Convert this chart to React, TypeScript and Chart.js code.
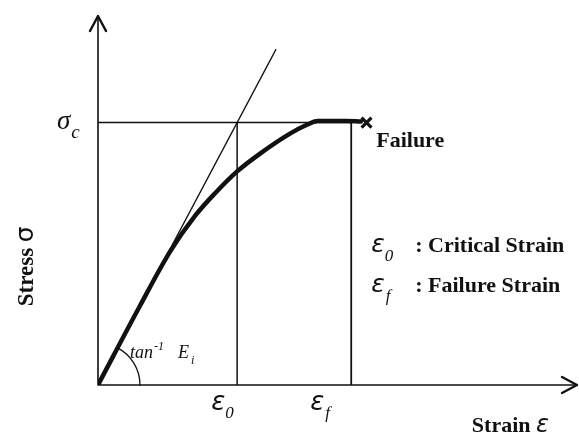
import React, { useEffect, useRef } from "react";
import { Chart, registerables } from "chart.js";

Chart.register(...registerables);

// Stress–strain curve, strain in units of ε0 and stress in units of σc
const strainCurve = [0, 0.3, 0.52, 0.7, 0.84, 1.0, 1.165, 1.38, 1.49, 1.58, 1.78, 1.89];
const stressCurve = [0, 0.3, 0.51, 0.646, 0.73, 0.814, 0.882, 0.958, 0.989, 1.006, 1.006, 1.004];

// Characteristic values
const criticalStrain = 1.0; // ε0
const failureStrain = 1.82; // εf
const peakStress = 1.0; // σc
const tangentEnd = 1.28; // initial tangent line (slope E_i) runs to this strain
const failureMark = [1.93, 1.0];

// Axis extents
const strainMax = 3.45;
const stressMax = 1.41;

const SERIF = "'Liberation Serif', 'Times New Roman', serif";
const EPS_FONT = "'DejaVu Sans', sans-serif";
const INK = "#111111";

type Pt = { x: number; y: number };
const pairs = (xs: number[], ys: number[]): Pt[] => xs.map((x, i) => ({ x, y: ys[i] }));

function subText(
  ctx: CanvasRenderingContext2D,
  base: string,
  sub: string,
  x: number,
  y: number,
  baseFont: string,
  subFont: string,
  dx: number,
  dy: number
) {
  ctx.font = baseFont;
  ctx.fillText(base, x, y);
  const w = ctx.measureText(base).width;
  ctx.font = subFont;
  ctx.fillText(sub, x + w + dx, y + dy);
}

const diagramPlugin = {
  id: "diagramPlugin",
  afterDatasetsDraw(chart: any) {
    const { ctx, scales } = chart;
    const sx = scales.x;
    const sy = scales.y;
    const ox = sx.getPixelForValue(0);
    const oy = sy.getPixelForValue(0);
    const xEnd = sx.getPixelForValue(strainMax) - 1;
    const yEnd = sy.getPixelForValue(stressMax) + 1;

    ctx.save();
    ctx.strokeStyle = INK;
    ctx.fillStyle = INK;
    ctx.lineCap = "round";
    ctx.lineJoin = "round";

    // axes
    ctx.lineWidth = 1.6;
    ctx.beginPath();
    ctx.moveTo(ox, oy);
    ctx.lineTo(ox, yEnd);
    ctx.moveTo(ox, oy);
    ctx.lineTo(xEnd, oy);
    ctx.stroke();

    // arrow heads
    ctx.lineWidth = 2.4;
    ctx.beginPath();
    ctx.moveTo(ox - 8, yEnd + 15);
    ctx.lineTo(ox, yEnd);
    ctx.lineTo(ox + 8, yEnd + 15);
    ctx.moveTo(xEnd - 15, oy - 8);
    ctx.lineTo(xEnd, oy);
    ctx.lineTo(xEnd - 15, oy + 8);
    ctx.stroke();

    // angle arc of the initial tangent
    const tx = sx.getPixelForValue(tangentEnd);
    const ty = sy.getPixelForValue(tangentEnd);
    const ang = Math.atan2(oy - ty, tx - ox);
    ctx.lineWidth = 1.3;
    ctx.beginPath();
    ctx.arc(ox, oy, 42, -ang, 0);
    ctx.stroke();

    ctx.textAlign = "left";
    ctx.textBaseline = "alphabetic";

    // σc
    const yc = sy.getPixelForValue(peakStress);
    subText(ctx, "σ", "c", ox - 41, yc + 6, `italic 27px ${SERIF}`, `italic 19px ${SERIF}`, 1, 9);

    // strain ticks
    const x0 = sx.getPixelForValue(criticalStrain);
    const xf = sx.getPixelForValue(failureStrain);
    subText(ctx, "ε", "0", x0 - 26, oy + 25, `oblique 26px ${EPS_FONT}`, `italic 17px ${SERIF}`, 0, 8);
    subText(ctx, "ε", "f", xf - 41, oy + 25, `oblique 26px ${EPS_FONT}`, `italic 17px ${SERIF}`, 1, 8);

    // tan⁻¹ Ei
    ctx.font = `italic 18px ${SERIF}`;
    ctx.fillText("tan", ox + 32, oy - 27);
    const tanW = ctx.measureText("tan").width;
    ctx.font = `italic 12px ${SERIF}`;
    ctx.fillText("-1", ox + 33 + tanW, oy - 35);
    subText(ctx, "E", "i", ox + 80, oy - 27, `italic 18px ${SERIF}`, `italic 12px ${SERIF}`, 2, 6);

    // Failure label
    ctx.font = `bold 22px ${SERIF}`;
    ctx.fillText("Failure", xf + 25, yc + 24);

    // legend
    const lx = xf + 20;
    subText(ctx, "ε", "0", lx, 252, `oblique 25px ${EPS_FONT}`, `italic 17px ${SERIF}`, 0, 9);
    ctx.font = `bold 22px ${SERIF}`;
    ctx.fillText(": Critical Strain", lx + 44, 252);
    subText(ctx, "ε", "f", lx, 292, `oblique 25px ${EPS_FONT}`, `italic 17px ${SERIF}`, 1, 9);
    ctx.font = `bold 22px ${SERIF}`;
    ctx.fillText(": Failure Strain", lx + 44, 292);

    // axis titles
    ctx.textAlign = "right";
    ctx.font = `oblique 24px ${EPS_FONT}`;
    const epsW = ctx.measureText("ε").width;
    ctx.fillText("ε", xEnd - 28, oy + 47);
    ctx.font = `bold 22px ${SERIF}`;
    ctx.fillText("Strain ", xEnd - 28 - epsW, oy + 47);

    ctx.save();
    ctx.translate(33, sy.getPixelForValue(0.3));
    ctx.rotate(-Math.PI / 2);
    ctx.textAlign = "left";
    ctx.font = `bold 23px ${SERIF}`;
    ctx.fillText("Stress ", 0, 0);
    const sw = ctx.measureText("Stress ").width;
    ctx.font = `25px ${EPS_FONT}`;
    ctx.fillText("σ", sw, 0);
    ctx.restore();

    ctx.restore();
  },
};

export default function App() {
  const canvasRef = useRef<HTMLCanvasElement | null>(null);

  useEffect(() => {
    const canvas = canvasRef.current;
    if (!canvas) return;
    const line = (data: Pt[], width: number) => ({
      data,
      showLine: true,
      borderColor: INK,
      borderWidth: width,
      pointRadius: 0,
      fill: false,
    });
    const chart = new Chart(canvas, {
      type: "scatter",
      data: {
        datasets: [
          {
            ...line(pairs(strainCurve, stressCurve), 4.5),
            cubicInterpolationMode: "monotone",
            borderCapStyle: "round",
          } as any,
          line(
            [
              { x: 0, y: 0 },
              { x: tangentEnd, y: tangentEnd },
            ],
            1.3
          ),
          line(
            [
              { x: 0, y: peakStress },
              { x: failureStrain, y: peakStress },
            ],
            1.5
          ),
          line(
            [
              { x: criticalStrain, y: 0 },
              { x: criticalStrain, y: peakStress },
            ],
            1.5
          ),
          line(
            [
              { x: failureStrain, y: 0 },
              { x: failureStrain, y: peakStress },
            ],
            1.8
          ),
          {
            data: [{ x: failureMark[0], y: failureMark[1] }],
            pointStyle: "crossRot",
            pointRadius: 7,
            borderWidth: 3.2,
            borderColor: INK,
            showLine: false,
          } as any,
        ],
      },
      options: {
        animation: false,
        responsive: false,
        devicePixelRatio: 1,
        events: [],
        layout: { autoPadding: false, padding: { left: 98, right: 1, top: 15, bottom: 54 } },
        plugins: { legend: { display: false }, tooltip: { enabled: false } },
        scales: {
          x: { type: "linear", min: 0, max: strainMax, display: false },
          y: { type: "linear", min: 0, max: stressMax, display: false },
        },
      },
      plugins: [diagramPlugin],
    });
    return () => chart.destroy();
  }, []);

  return (
    <div style={{ position: "absolute", left: 0, top: 0, width: 579, height: 439, background: "#fff" }}>
      <canvas ref={canvasRef} width={579} height={439} />
    </div>
  );
}
